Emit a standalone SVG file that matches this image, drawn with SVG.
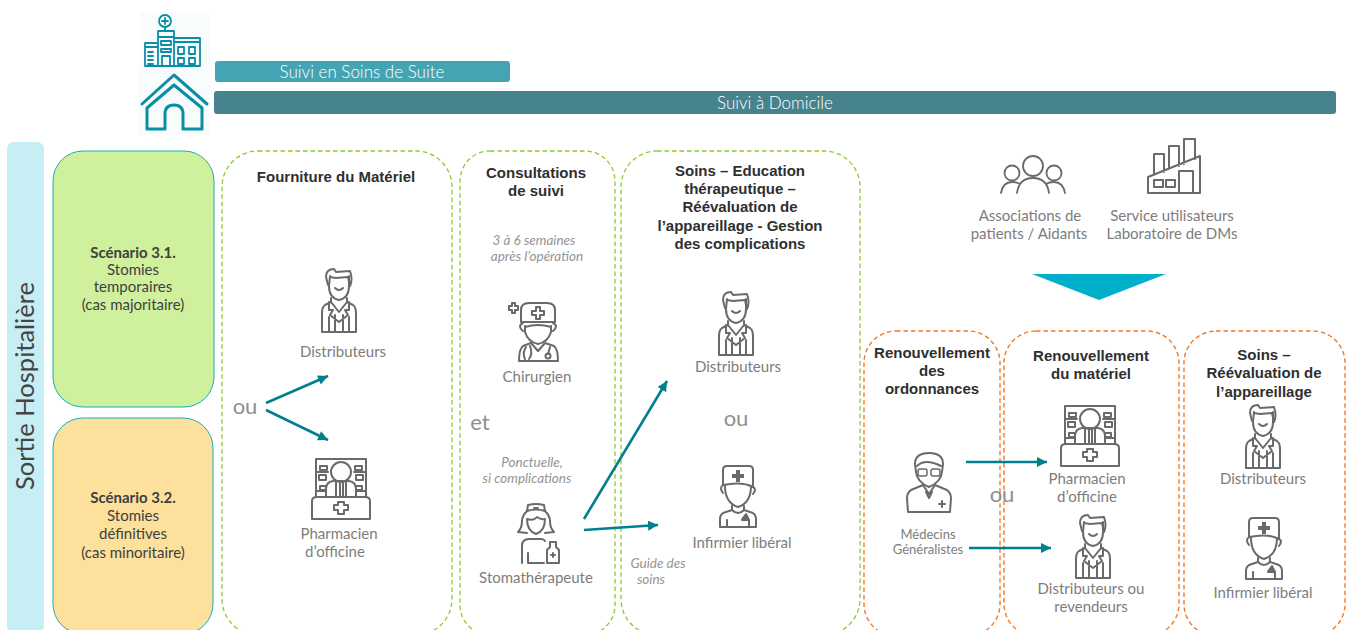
<svg xmlns="http://www.w3.org/2000/svg" width="1349" height="630" viewBox="0 0 1349 630">
<style>
text{font-family:"Lato","Liberation Sans",sans-serif;fill:#7d7d7d;font-size:15px;text-anchor:middle}
.h{font-family:"Liberation Sans",Arial,sans-serif;font-weight:700;fill:#2f2f2f;font-size:15px}
.i{font-style:italic;font-size:13.5px;fill:#949494}
.big{font-size:22px;fill:#8f8f8f}
.s{fill:#3f3f3f;font-size:15px}
.w{fill:#fff;font-size:17px;font-weight:300}
.m{font-size:13px}
.g{fill:none;stroke:#8ccb2e;stroke-width:1.3;stroke-dasharray:4.5 3}
.o{fill:none;stroke:#f2792a;stroke-width:1.4;stroke-dasharray:4.5 3}
.ic{fill:none;stroke:#6a6a6a;stroke-width:2;stroke-linejoin:round;stroke-linecap:round}
.t{fill:none;stroke:#0a8ea6;stroke-width:2.2;stroke-linejoin:round;stroke-linecap:round}
.c{fill:none;stroke:#007f8e;stroke-width:2.6;marker-end:url(#a)}
</style>
<defs>
<marker id="a" markerUnits="userSpaceOnUse" markerWidth="12" markerHeight="12" refX="10" refY="5" orient="auto"><path d="M0 0L10 5L0 10Z" fill="#007f8e"/></marker>
<g id="doc" class="ic"><path d="M-9-31L-10-21Q-10-9 0-7Q10-9 10-21L10-31"/><path d="M-11-22L-13-30Q-13-38-5-38L-3-35L11-36Q14-28 11-21L9-30L-3-29L-9-30"/><path d="M-4-19Q0-15 4-19"/><path d="M-8-9L-8-5L-14-2Q-17 0-17 6L-17 25L17 25L17 6Q17 0 14-2L8-5L8-9"/><path d="M-10-5L-10 3L-6 3L-9 8L0 15L9 8L6 3L10 3L10-5M-8-5L0 5L8-5M-10 10L-10 25M-4 8L-4 25M4 8L4 25M10 10L10 25"/></g>
<g id="ph" class="ic"><path d="M-25 10L-25-28L25-28L25 10"/><circle cx="0" cy="-15" r="10"/><path d="M-15 10L-15 2Q-15-5 -8-6L8-6Q15-5 15 2L15 10M-5-6L-5 10M5-6L5 10M-1-5L-1 10M2-5L2 10"/><path d="M-29 14Q-29 10-24 10L24 10Q29 10 29 14L29 32L-29 32Z"/><path d="M-3 15L3 15L3 18L7 18L7 23L3 23L3 27L-3 27L-3 23L-7 23L-7 18L-3 18Z"/><path d="M-21-21h7v4h-7zM-22-12h7v5h-7zM-21-1h6v4h-6zM14-21h7v4h-7zM15-12h7v5h-7zM15-1h6v4h-6zM-24-15H-13M13-15H24M-24 4H-15M15 4H24"/></g>
<g id="nur" class="ic" stroke-width="2.4"><path d="M-15-11L-15-26Q-15-30-11-30L11-30Q15-30 15-26L15-9Q4-15-15-11Z"/><path d="M-2-26H2V-22H6V-18H2V-14H-2V-18H-6V-22H-2Z" fill="#6a6a6a" stroke="none"/><path d="M-15-11Q-19-8-15-3M15-9Q19-7 15-2M-13-10Q-13 7 0 11Q13 7 13-10"/><path d="M-6 10L-6 14L-15 17Q-18 19-18 23L-18 31L18 31L18 23Q18 19 15 17L6 14L6 10M-6 14Q0 20 6 14M-11 24V31M11 24V31"/><path d="M5 22L8 18L11 24H4Z" fill="#6a6a6a"/></g>
</defs>

<rect x="140" y="13" width="71" height="54" fill="#f8fcfc"/>
<rect x="138" y="67" width="72" height="68" fill="#f8fcfc"/>
<g id="bars">
<rect x="215" y="61" width="295" height="21" rx="3" fill="#45a4b3"/>
<text class="w" x="362" y="78">Suivi en Soins de Suite</text>
<rect x="214" y="91" width="1122" height="23" rx="3" fill="#47838d"/>
<text class="w" x="775" y="109">Suivi à Domicile</text>
</g>
<g id="icon-hopital" class="t" style="stroke-width:1.8">
<circle cx="165" cy="21" r="6"/><path d="M165 18V24M162 21H168M165 27V31"/>
<path d="M158 66V31H174V66M158 37H174M161 41H171V45H161ZM161 49H171V52H161ZM162 66V56H170V66M174 38L200 38V66M174 42H200M145 66V43L158 43M145 66H200M145 47H158M148 52H153M148 56H153M148 60H153M148 64H153"/>
<path d="M178 47H184V54H178ZM189 47H195V54H189ZM178 58H184V64H178ZM189 58H195V64H189Z"/>
</g>
<g id="icon-maison" class="t" style="stroke-width:3">
<path d="M142 104L174 75L207 104"/><path d="M147 108L174 85L202 108V129H183V114Q183 105 174 105Q165 105 165 114V129H147Z"/>
</g>

<g id="sortie">
<path d="M7 627V150Q7 142 15 142H36Q44 142 44 150V627Q44 630 41 630H10Q7 630 7 627Z" fill="#c6eef4"/>
<text x="0" y="0" transform="translate(34 386) rotate(-90)" style="font-size:25.5px;fill:#444">Sortie Hospitalière</text>
</g>

<g id="scenario-1">
<rect x="53" y="151" width="161" height="256" rx="30" fill="#cff09c" stroke="#19aebd" stroke-width="1"/>
<text class="s" x="133" y="258" font-weight="700">Scénario 3.1.</text>
<text class="s" x="133" y="275">Stomies</text>
<text class="s" x="133" y="292">temporaires</text>
<text class="s" x="133" y="310">(cas majoritaire)</text>
</g>
<g id="scenario-2">
<rect x="53" y="418" width="160" height="216" rx="30" fill="#fde09c" stroke="#19aebd" stroke-width="1"/>
<text class="s" x="133" y="503" font-weight="700">Scénario 3.2.</text>
<text class="s" x="133" y="521">Stomies</text>
<text class="s" x="133" y="539">définitives</text>
<text class="s" x="133" y="558">(cas minoritaire)</text>
</g>

<g id="fourniture">
<rect class="g" x="222" y="151" width="230" height="484" rx="36"/>
<text class="h" x="336" y="182">Fourniture du Matériel</text>
<use href="#doc" x="339" y="307"/>
<text x="343" y="357">Distributeurs</text>
<use href="#ph" x="341" y="487"/>
<text x="339" y="539">Pharmacien</text>
<text x="335" y="557">d’officine</text>
<text class="big" x="245" y="414">ou</text>
</g>

<g id="consultations">
<rect class="g" x="460" y="151" width="155" height="484" rx="30"/>
<text class="h" x="536" y="178">Consultations</text>
<text class="h" x="536" y="196">de suivi</text>
<text class="i" x="534" y="245">3 à 6 semaines</text>
<text class="i" x="537" y="261">après l’opération</text>
<g id="chirurgien" class="ic" transform="translate(538 334)">
<path d="M-17-12L-17-24Q-17-31-9-31H9Q17-31 17-24L17-12Z"/>
<path d="M-2-27H2V-23H6V-19H2V-15H-2V-19H-6V-23H-2ZM-26-31H-23V-28H-20V-24H-23V-21H-26V-24H-29V-28H-26Z"/>
<path d="M-15-11Q-21-8-15-3M15-11Q21-8 15-3M-13-8V-2Q-10 8 0 10Q10 8 13-2V-8M-13-7Q0-11 13-7"/>
<path d="M-7 9L-15 12Q-19 15-19 27H20Q20 15 16 12L7 9L0 17ZM-12 13Q-16 19-13 25M-8 12Q-5 20-9 25M12 13L10 20"/><circle cx="10" cy="22" r="2.5"/>
</g>
<text x="537" y="382">Chirurgien</text>
<text class="big" x="480" y="430">et</text>
<text class="i" x="532" y="467">Ponctuelle,</text>
<text class="i" x="527" y="483">si complications</text>
<g id="stomatherapeute" class="ic" transform="translate(536 535)">
<path d="M-8-30L-9-24Q0-27 9-24L8-30Q0-32-8-30ZM-2-27H2"/>
<path d="M-9-24Q-14-19-14-14Q-14-7-18-3L-9-2M9-24Q14-19 14-14Q14-7 18-3L9-2M-9-16Q-2-14 1-18Q5-15 9-16Q9-4 0-1Q-9-4-9-16Z"/>
<path d="M-14 28V11Q-14 4-7 4H5Q8 4 9 6M-8 18V28H8M11 15L11 28L23 28L23 15L20 12V7H14V12Z"/><path d="M15 20h4M17 18v4"/>
</g>
<text x="536" y="583">Stomathérapeute</text>
</g>

<g id="soins">
<rect class="g" x="621" y="151" width="239" height="484" rx="36"/>
<text class="h" x="740" y="176">Soins – Education</text>
<text class="h" x="740" y="194">thérapeutique –</text>
<text class="h" x="740" y="212">Réévaluation de</text>
<text class="h" x="740" y="231">l’appareillage - Gestion</text>
<text class="h" x="740" y="249">des complications</text>
<use href="#doc" x="736" y="330"/>
<text x="738" y="372">Distributeurs</text>
<text class="big" x="736" y="426">ou</text>
<use href="#nur" x="738" y="496"/>
<text x="742" y="548">Infirmier libéral</text>
<text class="i" x="658" y="568">Guide des</text>
<text class="i" x="651" y="584">soins</text>
</g>

<g id="associations">
<g class="ic" style="stroke-width:1.8" transform="translate(1033 175)"><circle cx="0" cy="-9" r="10"/><circle cx="-21" cy="-2" r="7.5"/><circle cx="21" cy="-2" r="7.5"/><path d="M-16 18Q-14 3 0 3Q14 3 16 18M-32 18Q-30 7-21 7Q-16 7-13 9M32 18Q30 7 21 7Q16 7 13 9"/></g>
<text x="1030" y="221">Associations de</text>
<text x="1029" y="239">patients / Aidants</text>
</g>
<g id="service">
<path class="ic" d="M1148 177V193H1200V156ZM1154 175V154H1164V172M1169 169V146H1179V166M1184 164V139H1195V159M1179 193V171H1193V193M1154 180H1163V187H1154ZM1166 180H1175V187H1166Z"/>
<text x="1172" y="221">Service utilisateurs</text>
<text x="1172" y="239">Laboratoire de DMs</text>
</g>
<path id="fleche" d="M1032 274H1166L1099 300Z" fill="#00b0ca"/>

<g id="ordonnances">
<rect class="o" x="864" y="331" width="136" height="305" rx="32"/>
<text class="h" x="932" y="358">Renouvellement</text>
<text class="h" x="932" y="376">des</text>
<text class="h" x="932" y="394">ordonnances</text>
<g class="ic" transform="translate(929 484)"><path d="M-13-12L-14-20Q-14-31 0-31Q14-31 14-20L13-12Q12-2 0 3Q-12-2-13-12Z"/><path d="M-12-18Q-4-26 12-18"/><rect x="-11" y="-15" width="9" height="7" rx="2" stroke-width="1.5"/><rect x="2" y="-15" width="9" height="7" rx="2" stroke-width="1.5"/><path d="M-6 1L-18 6Q-22 9-22 14L-21 28H21L22 14Q22 9 18 6L6 1L0 10ZM-3 8L0 14L3 8"/><path d="M10 20H16M13 17V23"/></g>
<text class="m" x="928" y="539">Médecins</text>
<text class="m" x="928" y="554">Généralistes</text>
</g>

<g id="materiel">
<rect class="o" x="1004" y="331" width="175" height="305" rx="32"/>
<text class="h" x="1091" y="361">Renouvellement</text>
<text class="h" x="1091" y="379">du matériel</text>
<use href="#ph" x="1090" y="434"/>
<text x="1087" y="484">Pharmacien</text>
<text x="1087" y="502">d’officine</text>
<use href="#doc" x="1093" y="553"/>
<text x="1091" y="594">Distributeurs ou</text>
<text x="1091" y="612">revendeurs</text>
<text class="big" x="1002" y="502">ou</text>
</g>

<g id="soins-reeval">
<rect class="o" x="1184" y="331" width="161" height="305" rx="32"/>
<text class="h" x="1264" y="360">Soins –</text>
<text class="h" x="1264" y="378">Réévaluation de</text>
<text class="h" x="1264" y="397">l’appareillage</text>
<use href="#doc" x="1263" y="443"/>
<text x="1263" y="484">Distributeurs</text>
<use href="#nur" x="1264" y="548"/>
<text x="1263" y="598">Infirmier libéral</text>
</g>

<g id="connecteurs">
<line class="c" x1="266" y1="403" x2="328" y2="376"/>
<line class="c" x1="266" y1="410" x2="328" y2="440"/>
<line class="c" x1="584" y1="519" x2="667" y2="381"/>
<line class="c" x1="584" y1="530" x2="658" y2="525"/>
<line class="c" x1="966" y1="462" x2="1047" y2="462"/>
<line class="c" x1="969" y1="548" x2="1051" y2="548"/>
</g>
</svg>
